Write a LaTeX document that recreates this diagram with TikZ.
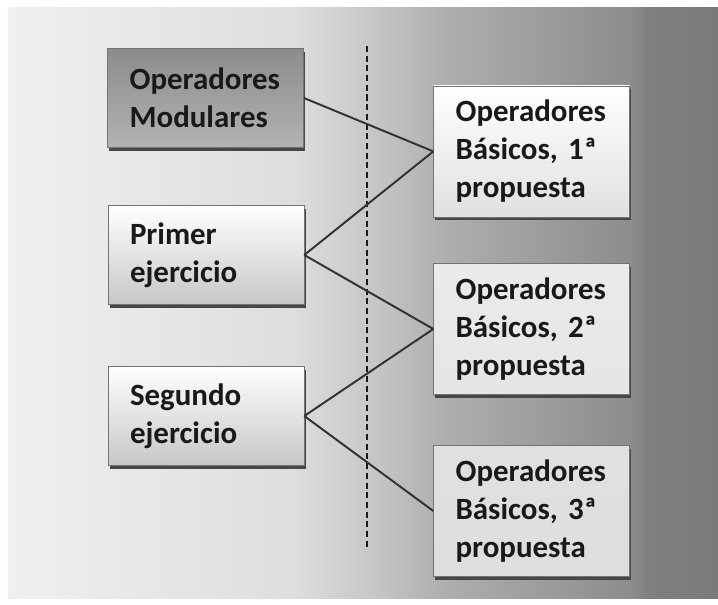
\documentclass[tikz,border=0pt]{standalone}
\usepackage{fontspec}
\setmainfont{Carlito}
\usetikzlibrary{shadows}

\pgfdeclarehorizontalshading{fondo}{100bp}{color(0bp)=(black!6); color(25bp)=(black!6); color(45bp)=(black!13); color(50bp)=(black!21); color(56bp)=(black!32); color(63bp)=(black!39); color(69bp)=(black!45); color(70bp)=(black!50); color(75bp)=(black!52); color(100bp)=(black!52)}

\begin{document}
\begin{tikzpicture}[
	caja/.style={shape=rectangle, draw=black!55, align=left, text width=3.8cm, inner xsep=0.55cm, inner ysep=0pt, text=black!90,
		font=\bfseries\fontsize{22}{27}\selectfont,
		drop shadow={shadow xshift=1.2pt, shadow yshift=-2.4pt, fill=black!72, opacity=1}},
	izq/.style={caja, minimum height=2.475cm},
	der/.style={caja, minimum height=3.275cm},
]
	
	\useasboundingbox (0,0) rectangle (17.95,15.125);
	\shade[shading=fondo] (0.2,0.15) rectangle (17.95,14.925);
	
	\draw[black!90, line width=1.9pt, dash pattern=on 4.3pt off 2.6pt] (9.175,13.975) -- (9.175,1.425);
	
	\node[izq, top color=black!45, middle color=black!68, bottom color=black!30] (modulares) at (5.14, 12.675) {Operadores\\Modulares};
	\node[izq, top color=white, middle color=black!5, bottom color=black!22] (primer)  at (5.15, 8.75)  {Primer\\ejercicio};
	\node[izq, top color=white, middle color=black!5, bottom color=black!22] (segundo) at (5.15, 4.725) {Segundo\\ejercicio};
	
	\node[der, top color=white, middle color=white, bottom color=black!12] (basicos1) at (13.29, 11.34) {Operadores\\Básicos, 1ª\\propuesta};
	\node[der, top color=black!8, middle color=white, bottom color=black!10] (basicos2) at (13.29, 6.9)  {Operadores\\Básicos, 2ª\\propuesta};
	\node[der, top color=black!12, middle color=black!32, bottom color=black!13] (basicos3) at (13.29, 2.35) {Operadores\\Básicos, 3ª\\propuesta};
	
	\path[-, line width=1.4pt, color=black!80] (modulares.east) edge (basicos1.west);
	\path[-, line width=1.4pt, color=black!80] (primer.east) edge (basicos1.west);
	\path[-, line width=1.4pt, color=black!80] (primer.east) edge (basicos2.west);
	\path[-, line width=1.4pt, color=black!80] (segundo.east) edge (basicos2.west);
	\path[-, line width=1.4pt, color=black!80] (segundo.east) edge (basicos3.west);
	
\end{tikzpicture}
\end{document}
